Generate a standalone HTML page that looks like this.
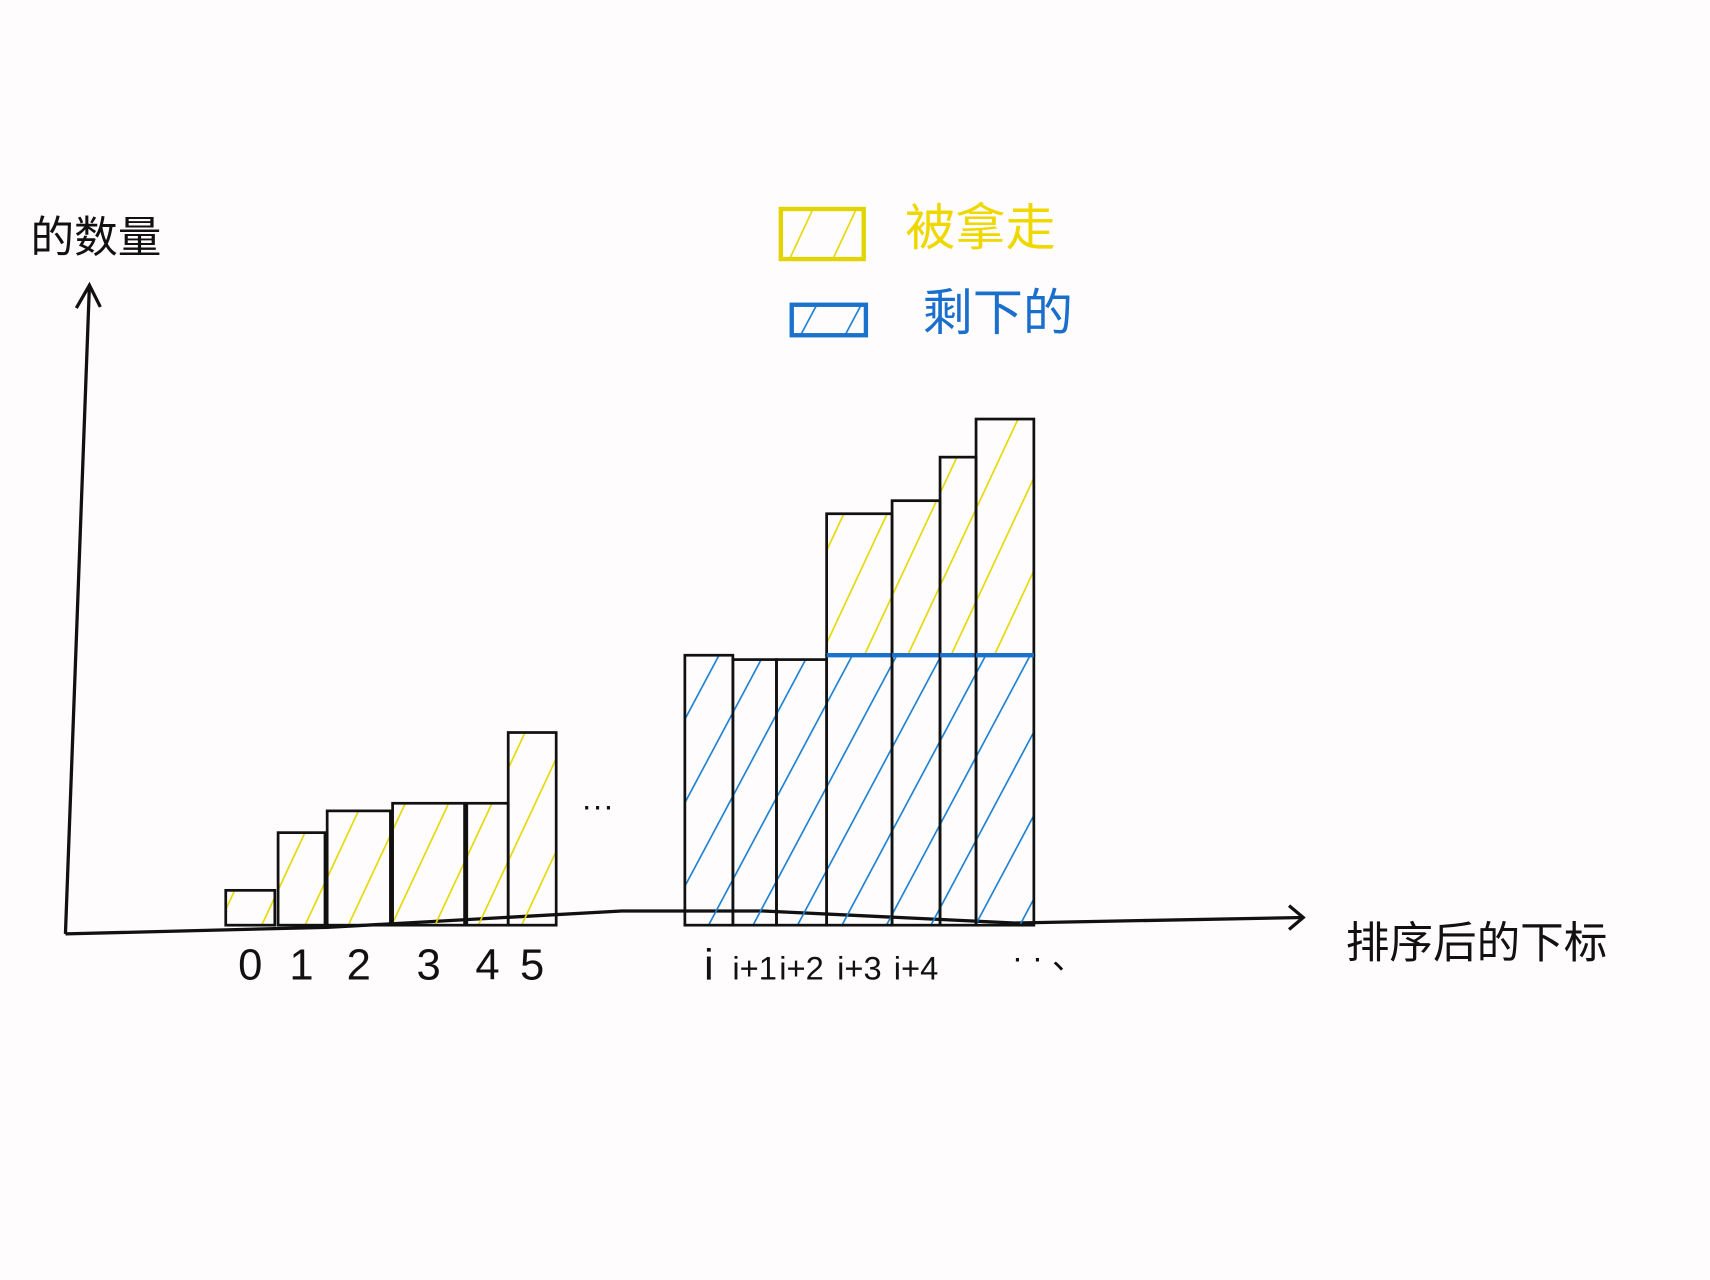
<!DOCTYPE html>
<html><head><meta charset="utf-8"><style>
html,body{margin:0;padding:0;background:#fefcfd;}
svg{display:block;}
text{font-family:"Liberation Sans","Noto Sans CJK SC",sans-serif;}
</style></head><body>
<svg id="chart" width="1710" height="1280" viewBox="0 0 1568 1176" preserveAspectRatio="none" xmlns="http://www.w3.org/2000/svg">
<defs>
<pattern id="hatchY" patternUnits="userSpaceOnUse" width="36" height="36" patternTransform="rotate(25)">
<line x1="0" y1="0" x2="0" y2="36" stroke="#e6d800" stroke-width="3"/></pattern>
<pattern id="hatchB" patternUnits="userSpaceOnUse" width="36" height="36" patternTransform="rotate(28)">
<line x1="0" y1="0" x2="0" y2="36" stroke="#1a7fd0" stroke-width="3"/></pattern>
</defs>
<rect width="1568" height="1176" fill="#fefcfd"/>
<g id="legend">
<rect x="716" y="192" width="76" height="46" fill="url(#hatchY)" stroke="#e2d400" stroke-width="4"/>
<text x="830" y="225" font-size="46" fill="#efd800">被拿走</text>
<rect x="726" y="280" width="68" height="28" fill="url(#hatchB)" stroke="#1a72cc" stroke-width="4"/>
<text x="846" y="303" font-size="46" fill="#1a6fcc">剩下的</text>
</g>
<g stroke="#111" stroke-width="3" fill="none">
<line x1="60" y1="858" x2="82" y2="262"/>
<polyline points="70,283 82,262 92,282"/>
</g>
<text x="28" y="232" font-size="40" fill="#111">的数量</text>
<g stroke="#111" stroke-width="3" fill="none">
<polyline points="60,858 300,852 570,837 700,837 930,848 1195,843"/>
<polyline points="1182,832 1195,843 1182,854"/>
</g>
<text x="1234" y="880" font-size="40" fill="#111">排序后的下标</text>
<g id="bars"></g>
<g id="ticks"></g>
<text x="533" y="750" font-size="30" fill="#111">···</text>
<text x="928" y="890" font-size="30" fill="#111">· · 、</text>
</svg>
<script>
const categories = ["0","1","2","3","4","5","i","i+1","i+2","i+3","i+4","i+5","i+6"];
const takenValues = [3.2,8.5,10.5,11.2,11.2,17.7,0,0,0,13.0,14.2,18.2,21.7];
const remainingValues = [0,0,0,0,0,0,24.8,24.4,24.4,24.8,24.8,24.8,24.8];
const tickLabels = ["0","1","2","3","4","5","i","i+1","i+2","i+3","i+4","",""];
const barLeft = [207,255,300,360,428,466,628,672,712,758,818,862,895];
const barRight = [252,298,358,426,466,510,672,712,758,818,862,895,948];
const base = 850, unit = 10;
const yScale = v => base - v * unit;
const NS = "http://www.w3.org/2000/svg";
const gb = document.getElementById("bars"), gt = document.getElementById("ticks");
categories.forEach((c, i) => {
  const x = barLeft[i], w = barRight[i] - barLeft[i];
  const r = remainingValues[i], t = takenValues[i];
  if (r > 0) {
    const el = document.createElementNS(NS, "rect");
    
    
    el.setAttribute("x", x); el.setAttribute("y", yScale(r));
    el.setAttribute("width", w); el.setAttribute("height", r * unit);
    el.setAttribute("fill", "url(#hatchB)"); el.setAttribute("stroke", "#111"); el.setAttribute("stroke-width", "2.5");
    gb.appendChild(el);
  }
  if (t > 0) {
    const el = document.createElementNS(NS, "rect");
    
    
    el.setAttribute("x", x); el.setAttribute("y", yScale(r + t));
    el.setAttribute("width", w); el.setAttribute("height", t * unit);
    el.setAttribute("fill", "url(#hatchY)"); el.setAttribute("stroke", "#111"); el.setAttribute("stroke-width", "2.5");
    gb.appendChild(el);
    if (r > 0) {
      const ln = document.createElementNS(NS, "line");
      
      
      ln.setAttribute("x1", x); ln.setAttribute("x2", x + w);
      ln.setAttribute("y1", yScale(r)); ln.setAttribute("y2", yScale(r));
      ln.setAttribute("stroke", "#1a72cc"); ln.setAttribute("stroke-width", "4");
      gb.appendChild(ln);
    }
  }
  if (tickLabels[i]) {
    const tx = document.createElementNS(NS, "text");
    
    
    tx.setAttribute("x", x + w / 2); tx.setAttribute("y", 900);
    tx.setAttribute("text-anchor", "middle");
    tx.setAttribute("font-size", tickLabels[i].length > 1 ? 30 : 40);
    tx.setAttribute("fill", "#111");
    tx.textContent = tickLabels[i];
    gt.appendChild(tx);
  }
});
</script>
</body></html>
